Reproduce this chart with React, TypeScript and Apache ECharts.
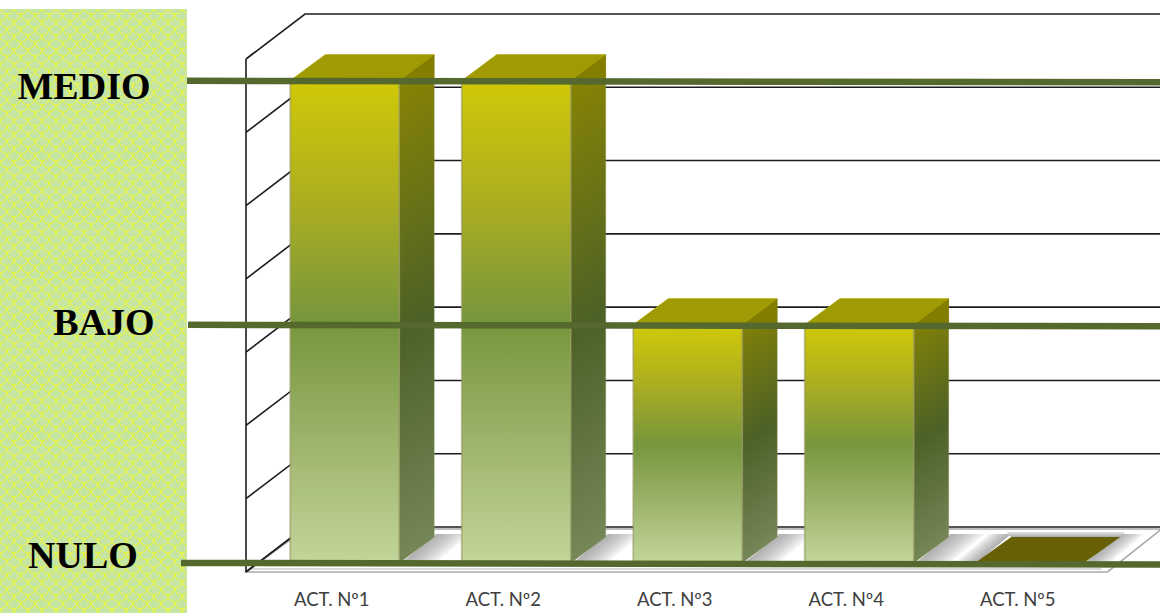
import React, { useEffect, useRef } from "react";
import * as echarts from "echarts";

const activities = ["ACT. Nº1", "ACT. Nº2", "ACT. Nº3", "ACT. Nº4", "ACT. Nº5"];
const activityLevels = [6.58, 6.58, 3.25, 3.25, 0];
const levelNames = ["MEDIO", "BAJO", "NULO"];
const levelValues = [6.58, 3.25, 0];
const levelLabelX = [84, 104, 83];
const levelLabelOffsetY = [5, -3, -8];
const levelLineStartX = [187, 188, 181];
const wallTicks = [0, 1, 2, 3, 4, 5, 6, 7];

// Geometry of the pseudo 3D box, in pixels relative to the axis scale
const BAR_WIDTH = 109;
const BAR_SHIFT_X = 13;
const BAR_DEPTH_X = 35;
const BAR_DEPTH_Y = 26;
const WALL_DEPTH_X = 59;
const WALL_FRONT_DY = 9;
const WALL_BACK_DY = -36;
const CHART_RIGHT = 1175;

// Fish-scale tile for the panel behind the level names
function makePanelTile(): HTMLCanvasElement {
  const c = document.createElement("canvas");
  c.width = 14;
  c.height = 14;
  const g = c.getContext("2d")!;
  g.fillStyle = "#c6e4a2";
  g.fillRect(0, 0, 14, 14);
  g.strokeStyle = "#eef92c";
  g.lineWidth = 1;
  for (const [x, y] of [
    [0, 0], [14, 0], [7, 7], [0, 14], [14, 14], [7, -7], [-7, 7], [21, 7],
  ]) {
    g.beginPath();
    g.arc(x, y, 7, 0, Math.PI);
    g.stroke();
  }
  return c;
}

const frontFill = new echarts.graphic.LinearGradient(0, 0, 0, 1, [
  { offset: 0, color: "#d0c908" },
  { offset: 0.25, color: "#acae20" },
  { offset: 0.5, color: "#76963c" },
  { offset: 0.75, color: "#9db46c" },
  { offset: 1, color: "#c3d69b" },
]);

function sideFill(x: number, top: number, bottom: number) {
  const h = bottom - top;
  return new echarts.graphic.LinearGradient(
    x,
    top,
    x + h * 0.5,
    top + h * 0.78,
    [
      { offset: 0, color: "#8d8700" },
      { offset: 0.5, color: "#4c6127" },
      { offset: 1, color: "#7f8f63" },
    ],
    true
  );
}

// Grey patch on the floor, darkest along its slanted edge at edgeX and fading
// across the floor, built from stacked translucent strips of growing width
function floorShadow(edgeX: number, base: number, reach: number, dir: number, strength: number) {
  const steps = 8;
  return Array.from({ length: steps }, (_, k) => {
    const width = (reach * (k + 1) * dir) / steps;
    return {
      type: "polygon",
      shape: {
        points: [
          [edgeX, base],
          [edgeX + BAR_DEPTH_X, base - 29],
          [edgeX + BAR_DEPTH_X + width, base - 29],
          [edgeX + width, base],
        ],
      },
      style: { fill: `rgba(130,130,130,${strength / steps})` },
    };
  });
}

export default function App() {
  const ref = useRef<HTMLDivElement>(null);

  useEffect(() => {
    const chart = echarts.init(ref.current!, undefined, { renderer: "svg" });

    const wallSeries = {
      type: "custom",
      z: 2,
      silent: true,
      clip: false,
      data: wallTicks.map((v) => [0, v]),
      encode: { x: 0, y: 1 },
      renderItem: (params: any, api: any) => {
        const y = api.coord([0, api.value(1)])[1];
        const left = api.coord([0, 0])[0] - api.size([1, 0])[0] / 2;
        return {
          type: "polyline",
          shape: {
            points: [
              [left, y + WALL_FRONT_DY],
              [left + WALL_DEPTH_X, y + WALL_BACK_DY],
              [CHART_RIGHT, y + WALL_BACK_DY],
            ],
          },
          style: { stroke: "#1c1c1c", lineWidth: 1.6, fill: "none" },
        };
      },
    };

    const floorSeries = {
      type: "custom",
      z: 3,
      silent: true,
      clip: false,
      data: [[0, 0]],
      encode: { x: 0, y: 1 },
      renderItem: (params: any, api: any) => {
        const [cx, y0] = api.coord([0, 0]);
        const top = api.coord([0, 7])[1];
        const band = api.size([1, 0])[0];
        const left = cx - band / 2;
        const right = left + band * 5;
        const floorY = y0 + WALL_FRONT_DY;
        const children: any[] = [
          {
            type: "polygon",
            shape: {
              points: [
                [left, floorY],
                [right + 4, floorY],
                [right + 58, floorY - 43],
                [left + WALL_DEPTH_X, floorY - 43],
              ],
            },
            style: { fill: "#ffffff", stroke: "#a9a9a9", lineWidth: 1.6 },
          },
          {
            type: "line",
            shape: { x1: left + 6, y1: floorY - 3, x2: right - 2, y2: floorY - 3 },
            style: { stroke: "#d8d8d8", lineWidth: 2 },
          },
          {
            type: "line",
            shape: { x1: left, y1: top + WALL_FRONT_DY, x2: left, y2: floorY },
            style: { stroke: "#1c1c1c", lineWidth: 1.6 },
          },
          {
            type: "line",
            shape: { x1: left, y1: floorY, x2: left + WALL_DEPTH_X, y2: floorY - 45 },
            style: { stroke: "#1c1c1c", lineWidth: 1.6 },
          },
        ];
        return { type: "group", children };
      },
    };

    const barSeries = {
      type: "custom",
      z: 4,
      silent: true,
      clip: false,
      data: activityLevels.map((v, i) => [i, v]),
      encode: { x: 0, y: 1 },
      renderItem: (params: any, api: any) => {
        const [cx, yTop] = api.coord([api.value(0), api.value(1)]);
        const yBase = api.coord([api.value(0), 0])[1];
        const x0 = cx + BAR_SHIFT_X - BAR_WIDTH / 2;
        const x1 = x0 + BAR_WIDTH;
        const children: any[] = [];
        if (yBase - yTop < 1) {
          // A zero level leaves only the flat top of the block on the floor
          children.push(...floorShadow(x0, yBase, 22, -1, 0.8));
          children.push(...floorShadow(x1, yBase, 24, 1, 0.8));
          children.push({
            type: "polygon",
            shape: {
              points: [
                [x0 + BAR_DEPTH_X - 5, yBase - BAR_DEPTH_Y - 5],
                [x1 + BAR_DEPTH_X + 5, yBase - BAR_DEPTH_Y - 5],
                [x1 + BAR_DEPTH_X, yBase - BAR_DEPTH_Y],
                [x0 + BAR_DEPTH_X, yBase - BAR_DEPTH_Y],
              ],
            },
            style: {
              fill: new echarts.graphic.LinearGradient(0, 0, 0, 1, [
                { offset: 0, color: "#e4e4e4" },
                { offset: 1, color: "#a8a8a8" },
              ]),
            },
          });
          children.push({
            type: "polygon",
            shape: {
              points: [
                [x0, yBase - 1],
                [x0 + BAR_DEPTH_X, yBase - BAR_DEPTH_Y],
                [x1 + BAR_DEPTH_X, yBase - BAR_DEPTH_Y],
                [x1, yBase - 1],
              ],
            },
            style: { fill: "#676007" },
          });
          return { type: "group", children };
        }
        children.push(...floorShadow(x1 + 2, yBase, 34, 1, 0.85));
        children.push({
          type: "polygon",
          shape: {
            points: [
              [x1, yTop],
              [x1 + BAR_DEPTH_X, yTop - BAR_DEPTH_Y],
              [x1 + BAR_DEPTH_X, yBase - BAR_DEPTH_Y],
              [x1, yBase],
            ],
          },
          style: { fill: sideFill(x1, yTop - BAR_DEPTH_Y, yBase), stroke: "rgba(150,150,90,0.35)", lineWidth: 1 },
        });
        children.push({
          type: "polygon",
          shape: {
            points: [
              [x0, yTop],
              [x0 + BAR_DEPTH_X, yTop - BAR_DEPTH_Y],
              [x1 + BAR_DEPTH_X, yTop - BAR_DEPTH_Y],
              [x1, yTop],
            ],
          },
          style: { fill: "#a09a05", stroke: "#aca605", lineWidth: 1 },
        });
        children.push({
          type: "polygon",
          shape: {
            points: [
              [x1, yTop],
              [x1 + BAR_DEPTH_X, yTop - BAR_DEPTH_Y],
              [x1 + BAR_DEPTH_X, yTop],
            ],
          },
          style: { fill: "#847e00" },
        });
        children.push({
          type: "rect",
          shape: { x: x0, y: yTop, width: BAR_WIDTH, height: yBase - yTop },
          style: { fill: frontFill, stroke: "rgba(150,150,95,0.6)", lineWidth: 1.8 },
        });
        return { type: "group", children };
      },
    };

    const levelLineSeries = {
      type: "custom",
      z: 6,
      silent: true,
      clip: false,
      data: levelValues.map((v, i) => [0, v, i]),
      encode: { x: 0, y: 1 },
      renderItem: (params: any, api: any) => {
        const y = api.coord([0, api.value(1)])[1];
        const i = api.value(2);
        return {
          type: "line",
          shape: { x1: levelLineStartX[i], y1: y, x2: CHART_RIGHT, y2: y + 1.5 },
          style: { stroke: "#55682e", lineWidth: 6.5 },
        };
      },
    };

    const levelLabelSeries = {
      type: "custom",
      z: 7,
      silent: true,
      clip: false,
      data: levelValues.map((v, i) => [0, v, i]),
      encode: { x: 0, y: 1 },
      renderItem: (params: any, api: any) => {
        const y = api.coord([0, api.value(1)])[1];
        const i = api.value(2);
        return {
          type: "text",
          style: {
            text: levelNames[i],
            x: levelLabelX[i],
            y: y + levelLabelOffsetY[i],
            fontFamily: "Liberation Serif",
            fontWeight: "bold",
            fontSize: 38,
            fill: "#000000",
            align: "center",
            verticalAlign: "middle",
          },
        };
      },
    };

    chart.setOption({
      animation: false,
      grid: { left: 246, width: 857.5, top: 50, height: 513 },
      xAxis: {
        type: "category",
        data: activities,
        axisLine: { show: false },
        axisTick: { show: false },
        axisLabel: { fontFamily: "Lato", fontSize: 18.5, color: "#404040", margin: 26 },
      },
      yAxis: {
        type: "value",
        min: 0,
        max: 7,
        interval: 1,
        axisLine: { show: false },
        axisTick: { show: false },
        axisLabel: { show: false },
        splitLine: { show: false },
      },
      graphic: [
        {
          type: "rect",
          z: 1,
          silent: true,
          shape: { x: 0, y: 9, width: 187, height: 604 },
          style: { fill: { image: makePanelTile(), repeat: "repeat" } as any },
        },
      ],
      series: [wallSeries, floorSeries, barSeries, levelLineSeries, levelLabelSeries],
    });

    return () => chart.dispose();
  }, []);

  return (
    <div
      ref={ref}
      style={{ position: "absolute", left: 0, top: 0, width: 1160, height: 613 }}
    />
  );
}
